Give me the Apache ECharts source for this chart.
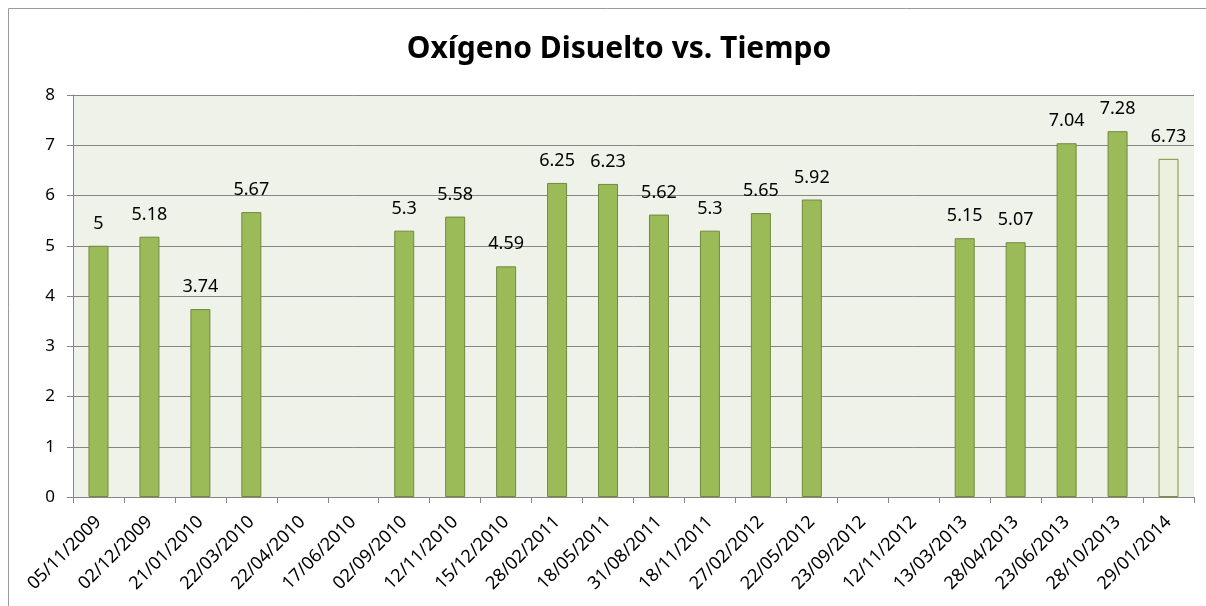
<!DOCTYPE html>
<html>
<head>
<meta charset="utf-8">
<script src="https://cdn.jsdelivr.net/npm/echarts@6/dist/echarts.min.js"></script>
<style>
  html, body {margin:0; padding:0; background:#fff; overflow:hidden;}
  #chart {width:1206px; height:606px;}
</style>
</head>
<body>
<div id="chart"></div>
<script>
// fechas de muestreo
const fechas = ["05/11/2009", "02/12/2009", "21/01/2010", "22/03/2010", "22/04/2010", "17/06/2010",
    "02/09/2010", "12/11/2010", "15/12/2010", "28/02/2011", "18/05/2011", "31/08/2011",
    "18/11/2011", "27/02/2012", "22/05/2012", "23/09/2012", "12/11/2012", "13/03/2013",
    "28/04/2013", "23/06/2013", "28/10/2013", "29/01/2014"];
// oxigeno disuelto (mg/L), null = sin dato
const oxigeno = [5, 5.18, 3.74, 5.67, null, null, 5.3, 5.58, 4.59, 6.25, 6.23, 5.62,
    5.3, 5.65, 5.92, null, null, 5.15, 5.07, 7.04, 7.28, 6.73];
const yTicks = [0, 1, 2, 3, 4, 5, 6, 7, 8];

const font = "Noto Sans";
const lastIdx = oxigeno.length - 1;

let serieData = oxigeno.map((v, i) => {
    if (v === null) return '-';
    if (i == lastIdx) {
        return {value: v, itemStyle: {color: '#ebf1de', borderColor: '#77933c'}};
    }
    return v;
});

let chart = echarts.init(document.getElementById('chart'), null, {renderer: 'canvas'});
let options = {
    backgroundColor: '#fff',
    animation: false,
    textStyle: {fontFamily: font},
    title: {
        text: 'Oxígeno Disuelto vs. Tiempo',
        left: 614,
        textAlign: 'center',
        top: 29,
        textStyle: {fontFamily: font, fontSize: 30, fontWeight: 'bold', color: '#000'}
    },
    // marco exterior (solo borde izquierdo y superior visibles)
    graphic: [{
        type: 'polyline',
        silent: true,
        shape: {points: [[8.5, 606], [8.5, 8.5], [1206, 8.5]]},
        style: {fill: null, stroke: '#9a9a9a', lineWidth: 1}
    }],
    grid: {
        left: 73, top: 95, right: 12, bottom: 109,
        show: true,
        backgroundColor: '#eff2e9',
        borderWidth: 0
    },
    xAxis: {
        type: 'category',
        data: fechas,
        axisLine: {lineStyle: {color: '#868686', width: 1}},
        axisTick: {show: true, length: 6, alignWithLabel: false, lineStyle: {color: '#868686'}},
        axisLabel: {
            interval: 0,
            rotate: 45,
            margin: 22,
            fontSize: 18,
            color: '#000',
            fontFamily: font
        }
    },
    yAxis: {
        type: 'value',
        min: yTicks[0],
        max: yTicks[yTicks.length - 1],
        interval: 1,
        axisLine: {show: true, lineStyle: {color: '#868686', width: 1}},
        axisTick: {show: true, length: 6, lineStyle: {color: '#868686'}},
        splitLine: {show: true, lineStyle: {color: '#868686', width: 1}},
        axisLabel: {margin: 18, fontSize: 17, color: '#000', fontFamily: font}
    },
    series: [{
        type: 'bar',
        data: serieData,
        barWidth: 20,
        itemStyle: {color: '#9bbb59', borderColor: '#71893f', borderWidth: 1},
        label: {
            show: true,
            position: 'top',
            distance: 13,
            fontSize: 18,
            color: '#000',
            fontFamily: font
        }
    }]
};
chart.setOption(options);
</script>
</body>
</html>
